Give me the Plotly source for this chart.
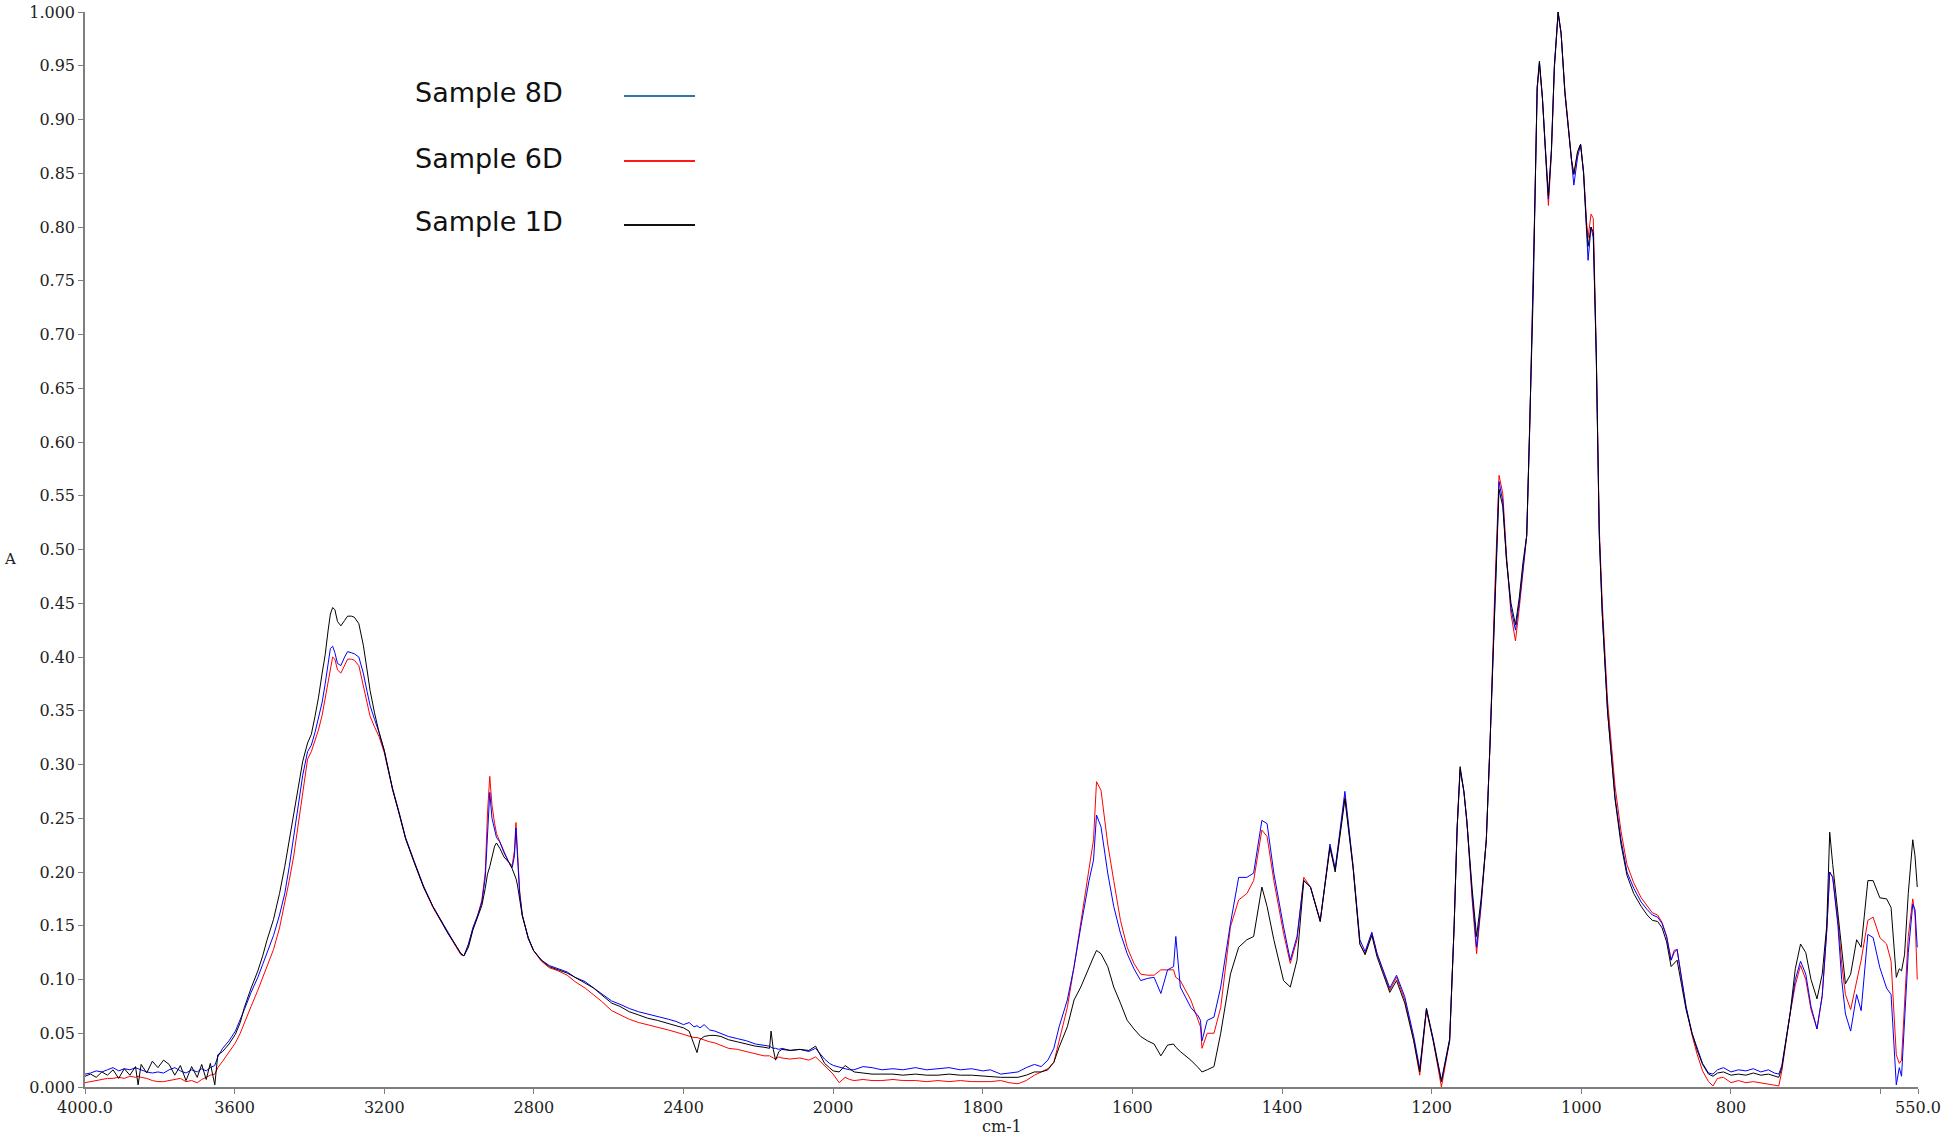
import plotly.graph_objects as go

# FTIR absorbance spectra
wavenumber = [
    4000, 3985, 3970, 3955, 3940, 3925, 3910, 3895, 3880, 3865,
    3858, 3850, 3835, 3820, 3805, 3790, 3775, 3760, 3745, 3730,
    3715, 3700, 3688, 3676, 3665, 3653, 3645, 3632, 3615, 3598,
    3585, 3574, 3556, 3538, 3525, 3514, 3496, 3480, 3466, 3454,
    3442, 3430, 3418, 3405, 3395, 3385, 3376, 3366, 3358, 3350,
    3344, 3338, 3332, 3325, 3316, 3306, 3298, 3288, 3280, 3268,
    3256, 3246, 3238, 3226, 3214, 3200, 3178, 3160, 3143, 3120,
    3095, 3070, 3047, 3030, 3011, 2995, 2987, 2975, 2963, 2950,
    2939, 2930, 2924, 2918, 2912, 2905, 2900, 2891, 2880, 2867,
    2858, 2852, 2848, 2844, 2838, 2831, 2815, 2801, 2780, 2759,
    2735, 2711, 2690, 2663, 2640, 2620, 2592, 2570, 2545, 2520,
    2496, 2470, 2440, 2420, 2400, 2385, 2372, 2364, 2356, 2345,
    2330, 2316, 2300, 2280, 2256, 2232, 2208, 2185, 2170, 2166,
    2160, 2154, 2145, 2137, 2115, 2089, 2065, 2047, 2035, 2023,
    2010, 2000, 1992, 1984, 1978, 1972, 1960, 1948, 1935, 1920,
    1907, 1890, 1875, 1860, 1845, 1830, 1815, 1800, 1790, 1776,
    1765, 1753, 1742, 1731, 1722, 1713, 1705, 1698, 1687, 1678,
    1669, 1658, 1652, 1648, 1642, 1633, 1625, 1616, 1607, 1598,
    1589, 1580, 1571, 1562, 1553, 1545, 1542, 1536, 1522, 1512,
    1509, 1507, 1500, 1491, 1482, 1469, 1458, 1447, 1438, 1427,
    1420, 1411, 1398, 1389, 1380, 1371, 1362, 1349, 1336, 1329,
    1316, 1305, 1296, 1289, 1280, 1273, 1256, 1247, 1236, 1224,
    1216, 1207, 1198, 1187, 1176, 1170, 1166, 1162, 1157, 1153,
    1146, 1140, 1134, 1127, 1122, 1116, 1110, 1105, 1100, 1094,
    1088, 1083, 1078, 1073, 1069, 1064, 1062, 1059, 1056, 1052,
    1048, 1044, 1040, 1036, 1031, 1027, 1022, 1017, 1013, 1010,
    1005, 1001, 997, 993, 991, 987, 984, 980, 976, 972,
    965, 955, 947, 939, 930, 920, 912, 905, 898, 892,
    886, 880, 876, 872, 866, 860, 852, 845, 838, 830,
    824, 818, 810, 800, 790, 780, 770, 760, 750, 742,
    736, 732, 727, 721, 714, 707, 700, 693, 685, 678,
    672, 668, 664, 660, 657, 652, 647, 640, 632, 626,
    617, 610, 601, 592, 586, 579, 575, 572, 568, 563,
    557, 554, 551,
]

sample_8d = [
    .012, .013, .015, .014, .016, .018, .015, .017, .016, .018,
    .017, .016, .014, .013, .014, .013, .016, .018, .015, .013,
    .016, .014, .017, .015, .018, .020, .028, .036, .043, .052,
    .062, .072, .088, .102, .114, .125, .141, .160, .180, .205,
    .232, .262, .290, .312, .318, .330, .342, .358, .375, .395,
    .408, .410, .404, .394, .392, .400, .405, .404, .403, .400,
    .385, .368, .355, .342, .330, .313, .278, .255, .232, .210,
    .187, .168, .154, .144, .133, .124, .122, .133, .148, .160,
    .172, .195, .240, .274, .250, .240, .232, .228, .218, .209,
    .204, .215, .241, .215, .180, .160, .138, .127, .118, .113,
    .110, .107, .102, .098, .092, .087, .080, .077, .073, .070,
    .068, .066, .063, .061, .058, .060, .056, .057, .055, .058,
    .053, .052, .050, .047, .045, .043, .040, .039, .038, .037,
    .036, .036, .035, .036, .034, .035, .033, .036, .031, .026,
    .022, .020, .018, .017, .016, .016, .019, .018, .016, .017,
    .016, .018, .016, .017, .018, .016, .017, .015, .016, .012,
    .013, .014, .018, .021, .019, .025, .036, .056, .081, .112,
    .149, .192, .211, .253, .242, .199, .168, .143, .124, .110,
    .099, .101, .102, .087, .109, .112, .140, .093, .074, .066,
    .062, .043, .062, .065, .093, .152, .195, .195, .199, .248,
    .245, .199, .149, .118, .140, .192, .186, .154, .226, .203,
    .275, .205, .137, .126, .144, .124, .092, .104, .084, .047,
    .017, .073, .045, .006, .045, .150, .240, .295, .275, .247,
    .180, .130, .170, .230, .320, .450, .563, .545, .490, .445,
    .425, .450, .485, .513, .613, .746, .825, .930, .954, .920,
    .870, .826, .870, .950, 1.000, .980, .925, .890, .862, .839,
    .865, .877, .850, .800, .769, .800, .790, .679, .513, .440,
    .350, .270, .230, .200, .185, .172, .165, .160, .158, .152,
    .140, .118, .125, .128, .100, .075, .050, .035, .022, .013,
    .012, .016, .018, .014, .016, .015, .017, .014, .016, .013,
    .012, .020, .040, .068, .100, .117, .105, .075, .054, .085,
    .145, .200, .195, .170, .150, .100, .068, .052, .086, .071,
    .142, .139, .111, .092, .086, .002, .018, .010, .060, .125,
    .170, .165, .130,
]

sample_6d = [
    .004, .005, .006, .007, .008, .008, .009, .008, .010, .009,
    .010, .009, .008, .006, .005, .005, .006, .007, .008, .005,
    .006, .004, .007, .009, .011, .012, .018, .024, .032, .041,
    .050, .060, .075, .090, .102, .112, .128, .148, .170, .192,
    .215, .245, .275, .305, .312, .322, .332, .346, .362, .380,
    .392, .400, .398, .388, .385, .393, .398, .398, .397, .392,
    .372, .356, .345, .335, .326, .311, .277, .254, .231, .209,
    .186, .167, .153, .143, .132, .123, .122, .132, .148, .160,
    .174, .200, .255, .289, .262, .245, .236, .228, .219, .209,
    .206, .220, .246, .222, .182, .160, .138, .127, .117, .111,
    .108, .104, .098, .092, .086, .080, .071, .067, .063, .060,
    .058, .056, .053, .051, .049, .047, .046, .046, .045, .044,
    .042, .041, .039, .036, .035, .033, .031, .029, .029, .028,
    .027, .026, .028, .027, .026, .027, .025, .028, .024, .020,
    .015, .012, .004, .009, .007, .006, .007, .006, .006, .007,
    .006, .006, .005, .006, .005, .006, .005, .005, .005, .006,
    .004, .003, .006, .011, .014, .017, .023, .043, .074, .112,
    .155, .203, .230, .284, .276, .226, .192, .155, .130, .115,
    .105, .104, .104, .109, .109, .109, .102, .099, .081, .062,
    .056, .036, .050, .050, .074, .149, .174, .180, .192, .239,
    .233, .192, .143, .115, .137, .195, .186, .155, .223, .202,
    .270, .205, .133, .124, .143, .124, .090, .102, .081, .043,
    .011, .071, .043, .000, .043, .150, .240, .296, .275, .248,
    .175, .124, .168, .230, .320, .455, .569, .552, .495, .440,
    .415, .445, .480, .513, .613, .746, .825, .928, .950, .920,
    .865, .820, .868, .948, .998, .980, .928, .892, .862, .849,
    .870, .877, .852, .805, .790, .812, .808, .685, .520, .450,
    .360, .280, .238, .207, .190, .176, .168, .162, .160, .153,
    .140, .118, .127, .128, .100, .074, .048, .030, .015, .005,
    .001, .008, .009, .004, .006, .004, .005, .004, .003, .002,
    .001, .015, .038, .068, .095, .113, .100, .072, .054, .085,
    .145, .200, .195, .172, .155, .115, .086, .072, .099, .118,
    .155, .158, .139, .133, .117, .030, .022, .025, .077, .140,
    .175, .160, .100,
]

sample_1d = [
    .010, .012, .009, .014, .011, .016, .008, .017, .011, .019,
    .002, .021, .013, .024, .018, .025, .021, .011, .020, .006,
    .019, .009, .021, .007, .022, .002, .030, .033, .040, .049,
    .060, .074, .092, .108, .122, .136, .156, .180, .205, .230,
    .254, .280, .303, .320, .328, .345, .362, .385, .402, .425,
    .440, .446, .444, .433, .429, .434, .438, .438, .437, .431,
    .411, .388, .369, .348, .330, .313, .277, .254, .231, .209,
    .186, .168, .153, .143, .133, .124, .122, .130, .146, .158,
    .169, .185, .198, .205, .215, .224, .227, .222, .214, .209,
    .203, .198, .194, .188, .175, .159, .139, .127, .118, .112,
    .109, .106, .102, .097, .092, .086, .078, .075, .070, .067,
    .064, .062, .059, .057, .055, .052, .040, .032, .044, .047,
    .048, .048, .047, .044, .042, .040, .038, .037, .036, .052,
    .035, .025, .033, .035, .034, .035, .034, .038, .030, .022,
    .018, .015, .014, .020, .017, .014, .013, .012, .012, .012,
    .011, .012, .011, .011, .012, .011, .011, .010, .010, .009,
    .009, .009, .011, .014, .014, .016, .023, .037, .056, .081,
    .093, .112, .121, .127, .124, .112, .093, .078, .062, .054,
    .047, .043, .040, .029, .039, .040, .037, .033, .025, .018,
    .016, .014, .016, .019, .050, .105, .130, .137, .140, .186,
    .168, .137, .099, .093, .118, .192, .186, .154, .223, .200,
    .268, .203, .133, .123, .141, .121, .088, .099, .078, .043,
    .014, .073, .043, .005, .043, .150, .242, .298, .275, .247,
    .185, .140, .175, .230, .320, .445, .556, .540, .490, .450,
    .430, .455, .488, .513, .613, .746, .825, .930, .954, .920,
    .872, .829, .872, .950, 1.000, .980, .925, .890, .862, .849,
    .870, .877, .850, .800, .782, .800, .795, .679, .513, .440,
    .350, .268, .226, .197, .180, .168, .160, .155, .154, .148,
    .135, .112, .115, .118, .095, .072, .050, .034, .021, .012,
    .010, .013, .014, .011, .012, .011, .013, .011, .012, .010,
    .009, .018, .042, .068, .110, .133, .125, .100, .082, .105,
    .150, .237, .207, .180, .165, .130, .096, .105, .137, .130,
    .192, .192, .176, .175, .167, .102, .110, .108, .123, .180,
    .230, .215, .186,
]

names = ["Sample 8D", "Sample 6D", "Sample 1D"]

# tick labels
x_left_ticks = [4000, 3600, 3200, 2800, 2400, 2000]
x_left_text = ["4000.0", "3600", "3200", "2800", "2400", "2000"]
x_right_ticks = [1800, 1600, 1400, 1200, 1000, 800, 600, 550]
x_right_text = ["1800", "1600", "1400", "1200", "1000", "800", "", "550.0"]
y_ticks = [0, .05, .1, .15, .2, .25, .3, .35, .4, .45, .5,
           .55, .6, .65, .7, .75, .8, .85, .9, .95, 1.0]
y_text = ["0.000"] + ["%.2f" % v for v in y_ticks[1:-1]] + ["1.000"]

assert len(wavenumber) == len(sample_8d) == len(sample_6d) == len(sample_1d)

# spectrum drawn red first, then blue, black on top
series = [(sample_6d, "#ff0000"), (sample_8d, "#0000ff"), (sample_1d, "#000000")]

# plot area in pixels (the scale doubles below 2000 cm-1)
W, H = 1948, 1137
left, right, top, bottom = 85, 30, 12, 50
split = 2000 / (2000 + 2 * 1450)

fig = go.Figure()

for xa in ["x", "x2"]:
    for vals, col in series:
        fig.add_trace(go.Scatter(
            x=wavenumber, y=vals, xaxis=xa, yaxis="y",
            mode="lines", line=dict(color=col, width=1),
            showlegend=False, hoverinfo="skip"
        ))

tick_font = dict(family="DejaVu Serif", size=16, color="#222222")
axis_common = dict(
    showline=True, linecolor="#7f7f7f", linewidth=1.5,
    ticks="outside", ticklen=5, tickcolor="#7f7f7f", tickwidth=1,
    showgrid=False, zeroline=False, tickfont=tick_font, automargin=False
)

fig.update_layout(
    width=W, height=H,
    margin=dict(l=left, r=right, t=top, b=bottom, autoexpand=False),
    plot_bgcolor="white", paper_bgcolor="white",
    xaxis=dict(domain=[0, split], range=[4000, 2000], tickvals=x_left_ticks,
               ticktext=x_left_text, anchor="y", **axis_common),
    xaxis2=dict(domain=[split, 1], range=[2000, 550], tickvals=x_right_ticks,
                ticktext=x_right_text, anchor="y", **axis_common),
    yaxis=dict(range=[0, 1], tickvals=y_ticks, ticktext=y_text, **axis_common),
)

# pixel -> paper helpers
pw = W - left - right
ph = H - top - bottom
def px(x):
    return (x - left) / pw
def py(y):
    return (H - bottom - y) / ph

# axis titles
fig.add_annotation(x=px(10), y=py(559), xref="paper", yref="paper", text="A",
                   showarrow=False, xanchor="center", yanchor="middle",
                   font=dict(family="DejaVu Serif", size=15, color="#222222"))
fig.add_annotation(x=0.5, y=py(1127), xref="paper", yref="paper", text="cm-1",
                   showarrow=False, xanchor="center", yanchor="middle",
                   font=dict(family="DejaVu Serif", size=16, color="#222222"))

# legend: text on the left, line sample on the right
legend_cols = ["#2e75b6", "#ff1a1a", "#111111"]
legend_y = [93, 158, 222]
for name, col, ly in zip(names, legend_cols, legend_y):
    fig.add_annotation(x=px(413), y=py(ly), xref="paper", yref="paper", text=name,
                       showarrow=False, xanchor="left", yanchor="middle",
                       font=dict(family="DejaVu Sans", size=27, color="#111111"))
    fig.add_shape(type="line", xref="paper", yref="paper",
                  x0=px(624), x1=px(695), y0=py(ly + 3), y1=py(ly + 3),
                  line=dict(color=col, width=2))

fig.write_html("out.html", config={"displayModeBar": False},
               post_script="document.body.style.margin='0px';")
